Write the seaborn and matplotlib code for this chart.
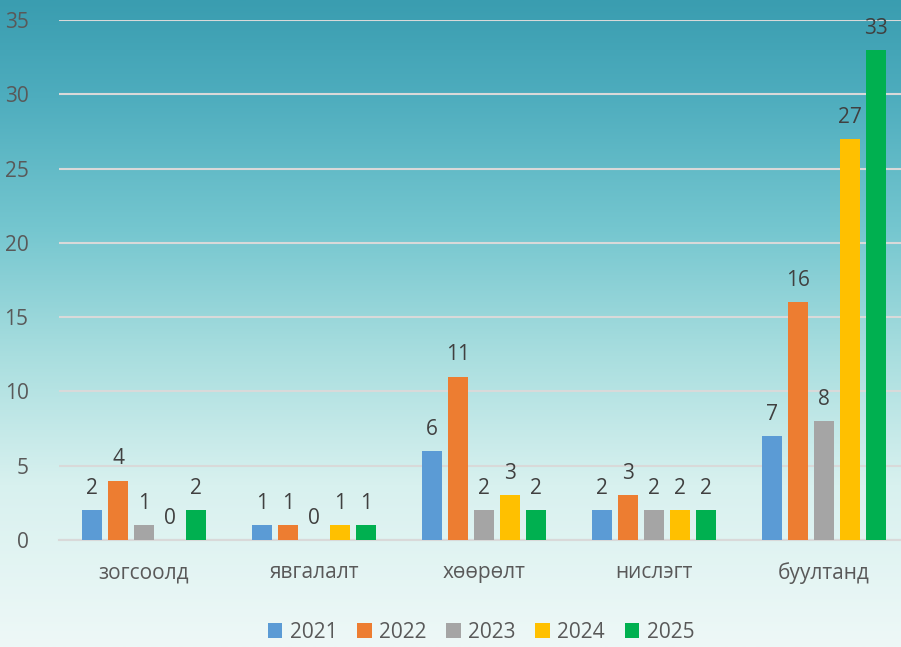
import numpy as np
import pandas as pd
import matplotlib
matplotlib.use("Agg")
import matplotlib.pyplot as plt
import seaborn as sns
from matplotlib.colors import LinearSegmentedColormap

categories = ["зогсоолд", "явгалалт", "хөөрөлт", "нислэгт", "буултанд"]
years = ["2021", "2022", "2023", "2024", "2025"]
v2021 = [2, 1, 6, 2, 7]
v2022 = [4, 1, 11, 3, 16]
v2023 = [1, 0, 2, 2, 8]
v2024 = [0, 1, 3, 2, 27]
v2025 = [2, 1, 2, 2, 33]
colors = ["#5B9BD5", "#ED7D31", "#A5A5A5", "#FFC000", "#00B050"]

rows = []
for y, vals in zip(years, [v2021, v2022, v2023, v2024, v2025]):
    for c, v in zip(categories, vals):
        rows.append({"cat": c, "year": y, "val": v})
df = pd.DataFrame(rows)

sns.set_theme(style="white")
plt.rcParams["font.family"] = ["Open Sans", "DejaVu Sans"]

fig = plt.figure(figsize=(9.01, 6.47), dpi=100)
# background gradient
bg = fig.add_axes([0, 0, 1, 1], zorder=-10)
cmap = LinearSegmentedColormap.from_list("bg", [
    (0.0, "#3a9db0"), (0.15, "#4eadbe"), (0.35, "#74c6cf"),
    (0.55, "#a9dedf"), (0.75, "#d8f1ef"), (1.0, "#eef8f7")])
grad = np.linspace(0, 1, 256).reshape(-1, 1)
bg.imshow(grad, aspect="auto", cmap=cmap, extent=[0, 1, 0, 1], origin="upper")
bg.axis("off")

ax = fig.add_axes([0.0655, 0.1654, 0.9434, 0.8036])
ax.patch.set_alpha(0)
sns.barplot(data=df, x="cat", y="val", hue="year", palette=colors,
            saturation=1, width=0.765, gap=0.23, ax=ax,
            edgecolor="none", zorder=3)
ax.set_ylim(0, 35)
ax.set_yticks(range(0, 36, 5))
ax.set_xlabel("")
ax.set_ylabel("")
for s in ["top", "right", "left"]:
    ax.spines[s].set_visible(False)
ax.spines["bottom"].set_color("#d9d9d9")
ax.spines["bottom"].set_linewidth(1.5)
ax.yaxis.grid(True, color="#d9d9d9", linewidth=1.5, zorder=0)
ax.set_axisbelow(True)
ax.tick_params(axis="y", labelsize=15, labelcolor="#595959", length=0, pad=22)
ax.tick_params(axis="x", labelsize=15, labelcolor="#595959", length=0, pad=16)

for cont in ax.containers:
    ax.bar_label(cont, labels=[f"{int(b.get_height())}" for b in cont],
                 padding=8, fontsize=15, color="#404040")

handles, labels = ax.get_legend_handles_labels()
ax.legend(handles, labels, loc="center", bbox_to_anchor=(0.4965, -0.178),
          ncol=5, frameon=False, fontsize=15, handlelength=0.7, handleheight=0.7,
          handletextpad=0.35, columnspacing=0.95, labelcolor="#595959",
          borderpad=0.1)

fig.savefig("out.png", dpi=100)
